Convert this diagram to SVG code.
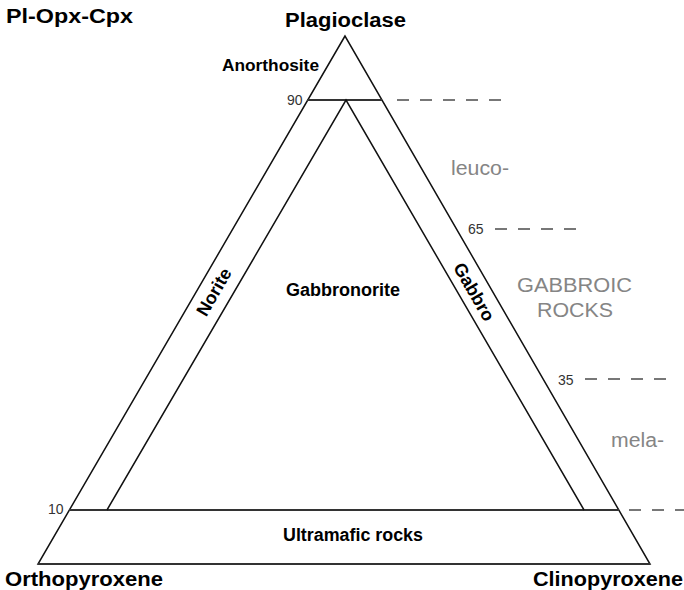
<svg xmlns="http://www.w3.org/2000/svg" width="684" height="590" viewBox="0 0 684 590">
<style>
.b{font-family:"Liberation Sans",Arial,sans-serif;font-weight:bold;fill:#000}
.g{font-family:"Liberation Sans",Arial,sans-serif;fill:#858585;font-size:20px}
.n{font-family:"Liberation Sans",Arial,sans-serif;fill:#333;font-size:14px}
.edge{fill:none;stroke:#111;stroke-width:1.5}
.tie{fill:none;stroke:#333;stroke-width:2}
.dash{fill:none;stroke:#777;stroke-width:2;stroke-dasharray:12 11}
</style>
<rect width="684" height="590" fill="#fff"/>
<text class="b" x="6" y="23" font-size="20" textLength="127" lengthAdjust="spacingAndGlyphs">Pl-Opx-Cpx</text>
<g id="connectors">
<polygon class="edge" points="345,36 38,564 650,564"/>
<line class="tie" x1="307" y1="100" x2="382" y2="100"/>
<line class="tie" x1="69" y1="510" x2="619" y2="510"/>
<line class="tie" x1="38" y1="564" x2="650" y2="564"/>
<polyline class="edge" points="107,510 346,100 584,510"/>
<line class="dash" x1="397" y1="100" x2="503" y2="100"/>
<line class="dash" x1="495" y1="229" x2="578" y2="229"/>
<line class="dash" x1="585" y1="379" x2="668" y2="379"/>
<line class="dash" x1="629" y1="510" x2="684" y2="510"/>
</g>
<g id="plagioclase"><text class="b" x="285" y="27" font-size="20" textLength="121" lengthAdjust="spacingAndGlyphs">Plagioclase</text></g>
<g id="anorthosite"><text class="b" x="222" y="71" font-size="17" textLength="97" lengthAdjust="spacingAndGlyphs">Anorthosite</text></g>
<g id="gabbronorite"><text class="b" x="286" y="296" font-size="18" textLength="114" lengthAdjust="spacingAndGlyphs">Gabbronorite</text></g>
<g id="norite"><text class="b" font-size="18" text-anchor="middle" transform="translate(214,292) rotate(-60)" y="6">Norite</text></g>
<g id="gabbro"><text class="b" font-size="18" text-anchor="middle" transform="translate(474,292) rotate(60)" y="6">Gabbro</text></g>
<g id="ultramafic"><text class="b" x="283" y="541" font-size="18" textLength="140" lengthAdjust="spacingAndGlyphs">Ultramafic rocks</text></g>
<g id="orthopyroxene"><text class="b" x="5" y="586" font-size="20" textLength="158" lengthAdjust="spacingAndGlyphs">Orthopyroxene</text></g>
<g id="clinopyroxene"><text class="b" x="533" y="586" font-size="20" textLength="150" lengthAdjust="spacingAndGlyphs">Clinopyroxene</text></g>
<g id="scale">
<text class="n" x="287" y="105">90</text>
<text class="n" x="468" y="234">65</text>
<text class="n" x="558" y="385">35</text>
<text class="n" x="48" y="514">10</text>
</g>
<g id="gabbroic-rocks">
<text class="g" x="451" y="175" textLength="58" lengthAdjust="spacingAndGlyphs">leuco-</text>
<text class="g" x="517" y="292" textLength="115" lengthAdjust="spacingAndGlyphs">GABBROIC</text>
<text class="g" x="537" y="317" textLength="76" lengthAdjust="spacingAndGlyphs">ROCKS</text>
<text class="g" x="611" y="447" textLength="53" lengthAdjust="spacingAndGlyphs">mela-</text>
</g>
</svg>
